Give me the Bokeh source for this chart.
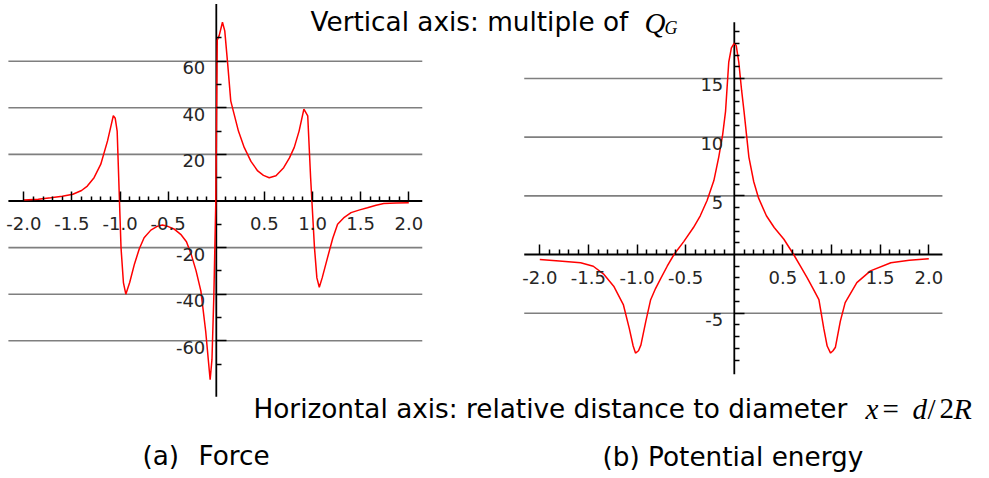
from bokeh.plotting import figure
from bokeh.models import Range1d, LinearAxis, FixedTicker, Label
from bokeh.core.properties import value
from bokeh.embed import file_html
from bokeh.resources import INLINE

# ---------------------------------------------------------------- data
# (a) force, in multiples of Q_G, against x = d/2R
force_x = [-2.00, -1.85, -1.72, -1.60, -1.49, -1.40, -1.34, -1.27, -1.20, -1.13,
           -1.09, -1.07, -1.05, -1.03, -1.01, -0.99, -0.965, -0.94, -0.90, -0.85,
           -0.80, -0.75, -0.68, -0.61, -0.56, -0.51, -0.44, -0.37, -0.31, -0.26,
           -0.21, -0.16, -0.11, -0.064, -0.045, -0.025, -0.005, 0.01, 0.03, 0.064,
           0.088, 0.12, 0.15, 0.185, 0.23, 0.29, 0.36, 0.43, 0.49, 0.55,
           0.62, 0.70, 0.76, 0.81, 0.86, 0.91, 0.95, 0.98, 1.02, 1.045,
           1.07, 1.10, 1.155, 1.21, 1.26, 1.33, 1.40, 1.49, 1.57, 1.66,
           1.74, 1.87, 2.00]
force_y = [0.4, 0.8, 1.4, 2.0, 2.9, 4.5, 6.4, 10.0, 15.8, 25.8,
           33.0, 36.6, 35.5, 30.0, 5.0, -20.0, -35.0, -40.0, -35.0, -27.0,
           -20.5, -15.8, -12.5, -10.8, -10.3, -10.8, -12.0, -14.3, -17.5, -23.0,
           -30.0, -38.7, -56.0, -76.7, -68.0, -40.0, 0.0, 69.0, 71.0, 76.7,
           73.0, 58.0, 43.0, 37.3, 30.0, 23.0, 17.0, 12.9, 11.0, 10.0,
           10.8, 14.3, 18.5, 23.0, 30.0, 39.4, 36.5, 10.0, -20.0, -33.0,
           -37.0, -33.0, -24.4, -16.0, -10.0, -7.0, -5.0, -3.8, -2.9, -1.8,
           -1.1, -0.9, -0.7]

# (b) potential energy, in multiples of Q_G
energy_x = [-2.00, -1.80, -1.58, -1.45, -1.34, -1.24, -1.14, -1.08, -1.04, -1.016,
            -0.985, -0.96, -0.91, -0.86, -0.81, -0.76, -0.69, -0.62, -0.52, -0.42,
            -0.35, -0.28, -0.21, -0.16, -0.12, -0.09, -0.057, -0.03, 0.0, 0.02,
            0.046, 0.075, 0.10, 0.15, 0.20, 0.25, 0.33, 0.41, 0.51, 0.61,
            0.68, 0.75, 0.81, 0.87, 0.92, 0.955, 0.99, 1.015, 1.04, 1.09,
            1.14, 1.26, 1.40, 1.61, 1.80, 2.00]
energy_y = [-0.43, -0.55, -0.7, -1.0, -1.7, -2.7, -4.3, -6.3, -7.8, -8.4,
            -8.2, -7.7, -5.7, -3.85, -2.9, -2.1, -1.0, 0.0, 1.1, 2.3,
            3.3, 4.6, 6.3, 8.3, 10.2, 12.2, 16.4, 17.6, 18.0, 17.8,
            16.4, 14.0, 12.2, 8.3, 6.2, 4.8, 3.3, 2.3, 1.3, 0.0,
            -1.0, -2.0, -2.9, -3.85, -6.3, -7.8, -8.4, -8.2, -7.9, -5.7,
            -4.1, -2.4, -1.4, -0.7, -0.5, -0.37]

# ticks and tick labels
x_ticks = [-2.0, -1.5, -1.0, -0.5, 0.5, 1.0, 1.5, 2.0]
x_tick_labels = ["-2.0", "-1.5", "-1.0", "-0.5", "0.5", "1.0", "1.5", "2.0"]
x_minor = [-1.9, -1.8, -1.7, -1.6, -1.4, -1.3, -1.2, -1.1, -0.9, -0.8, -0.7, -0.6,
           -0.4, -0.3, -0.2, -0.1, 0.1, 0.2, 0.3, 0.4, 0.6, 0.7, 0.8, 0.9,
           1.1, 1.2, 1.3, 1.4, 1.6, 1.7, 1.8, 1.9]

force_ticks = [-60, -40, -20, 20, 40, 60]
force_tick_labels = ["-60", "-40", "-20", "20", "40", "60"]
force_minor = [-70, -50, -30, -10, 10, 30, 50, 70]

energy_ticks = [-5, 5, 10, 15]
energy_tick_labels = ["-5", "5", "10", "15"]
energy_minor = [-9, -8, -7, -6, -4, -3, -2, -1, 1, 2, 3, 4, 6, 7, 8, 9,
                11, 12, 13, 14, 16, 17, 18, 19]

# ---------------------------------------------------------------- layout
W, H = 989, 478
# each panel: pixel position of its origin and pixels per data unit
A_X0, A_SX, A_Y0, A_SY = 215.8, 96.25, 200.5, 2.33
B_X0, B_SX, B_Y0, B_SY = 733.8, 97.25, 254.0, 11.735

def span(x0, sx, n):
    return Range1d(-x0 / sx, (n - x0) / sx)

def span_y(y0, sy):
    return Range1d(-(H - y0) / sy, y0 / sy)

p = figure(width=W, height=H, output_backend="svg", toolbar_location=None,
           x_range=span(A_X0, A_SX, W), y_range=span_y(A_Y0, A_SY),
           x_axis_type=None, y_axis_type=None, min_border=0)
p.extra_x_ranges = {"bx": span(B_X0, B_SX, W)}
p.extra_y_ranges = {"by": span_y(B_Y0, B_SY)}
p.outline_line_color = None
p.background_fill_color = "white"
p.border_fill_color = "white"

GRID = "#7f7f7f"
TICK_FONT = "DejaVu Sans"
TEXT_FONT = "DejaVu Sans"
MATH_FONT = "Liberation Serif"
LABEL_COLOR = "#262626"


def panel(xr, yr, xs, ys, yticks, ylabels, yminor, ylo, yhi):
    kw = {}
    if xr:
        kw["x_range_name"] = xr
    if yr:
        kw["y_range_name"] = yr
    # horizontal grid lines
    p.segment(x0=[-2.16] * len(yticks), x1=[2.14] * len(yticks), y0=yticks, y1=yticks,
              line_color=GRID, line_width=1.6, **kw)
    # axis lines through the origin
    p.segment(x0=[-2.16, 0], x1=[2.14, 0], y0=[0, ylo], y1=[0, yhi],
              line_color="black", line_width=1.8, **kw)
    # the curve
    p.line(xs, ys, line_color="#ff0000", line_width=1.5, **kw)

    # value labels of the vertical axis, hanging just below their ticks
    p.text(x=[0] * len(yticks), y=yticks, text=ylabels, x_offset=-11, y_offset=0,
           text_align="right", text_baseline="top", text_font=value(TICK_FONT),
           text_font_size="18px", text_color=LABEL_COLOR, **kw)

    xa = LinearAxis(fixed_location=0, ticker=FixedTicker(ticks=x_ticks, minor_ticks=x_minor),
                    major_label_overrides=dict(zip(x_ticks, x_tick_labels)), **kw)
    ya = LinearAxis(fixed_location=0, ticker=FixedTicker(ticks=yticks, minor_ticks=yminor),
                    **kw)
    for ax in (xa, ya):
        ax.axis_line_color = None
        ax.major_tick_in = 10
        ax.major_tick_out = 0
        ax.minor_tick_in = 5
        ax.minor_tick_out = 0
        ax.major_tick_line_color = "black"
        ax.minor_tick_line_color = "black"
        ax.major_tick_line_width = 1.5
        ax.minor_tick_line_width = 1.5
        ax.major_label_text_font = TICK_FONT
        ax.major_label_text_font_size = "18px"
        ax.major_label_text_color = LABEL_COLOR
    xa.major_label_standoff = 16
    ya.major_label_text_font_size = "0px"
    ya.major_label_text_color = None
    p.add_layout(xa, "below")
    p.add_layout(ya, "left")


panel(None, None, force_x, force_y, force_ticks, force_tick_labels, force_minor, -84.0, 84.6)
panel("bx", "by", energy_x, energy_y, energy_ticks, energy_tick_labels, energy_minor, -10.2, 19.8)

# Labels are placed by their baseline, measured in pixels from the top edge
LIFT = 8


def text(x, y, s, size=26.3, font=TEXT_FONT, style="normal"):
    p.add_layout(Label(x=x, y=H - y + LIFT, x_units="screen", y_units="screen", text=s,
                       text_font=font, text_font_size=f"{size}px", text_font_style=style,
                       text_color="black", text_baseline="alphabetic", text_align="left"))


text(310, 29, "Vertical axis: multiple of")
text(644, 30, "Q", 29, MATH_FONT, "italic")
text(664, 35, "G", 18, MATH_FONT, "italic")

text(253, 416, "Horizontal axis: relative distance to diameter")
text(865, 416, "x", 29, MATH_FONT, "italic")
text(882, 416, "=", 29, MATH_FONT)
text(912, 416, "d", 29, MATH_FONT, "italic")
text(927, 416, "/", 29, MATH_FONT)
text(939, 416, "2", 29, MATH_FONT)
text(953, 416, "R", 30, MATH_FONT, "italic")

text(142, 463, "(a)")
text(198, 463, "Force")
text(602, 464, "(b) Potential energy")

open("out.html", "w").write(file_html(p, INLINE))
